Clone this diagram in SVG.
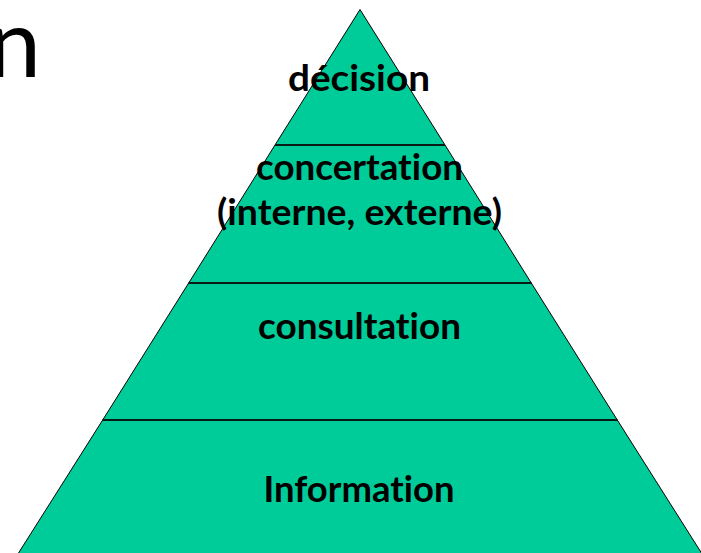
<svg xmlns="http://www.w3.org/2000/svg" width="701" height="553" viewBox="0 0 701 553">
<style>
.tier{fill:#00CC99;stroke:#000;stroke-width:1;stroke-linejoin:miter}
.div{stroke:#0a1a14;stroke-width:2}
.lbl{font-family:Lato,"Open Sans","Liberation Sans",sans-serif;font-weight:bold;font-size:36px;fill:#000;text-anchor:middle;font-variant-ligatures:none}
.title{font-family:Lato,"Open Sans","Liberation Sans",sans-serif;font-size:95px;fill:#000}
</style>
<rect width="701" height="553" fill="#fff"/>
<text class="title" x="-12" y="77">n</text>
<g id="tier-information">
<polygon class="tier" points="102.7,420 617.3,420 705.9,560 14.1,560"/>
<text class="lbl" x="359" y="502" textLength="191" lengthAdjust="spacingAndGlyphs">Information</text>
</g>
<g id="tier-consultation">
<polygon class="tier" points="188.7,283 531.3,283 617.3,420 102.7,420"/>
<text class="lbl" x="359.5" y="339" textLength="203" lengthAdjust="spacingAndGlyphs">consultation</text>
</g>
<g id="tier-concertation">
<polygon class="tier" points="275,145 445,145 531.3,283 188.7,283"/>
<text class="lbl" x="359.5" y="180" textLength="207" lengthAdjust="spacingAndGlyphs">concertation</text>
<text class="lbl" x="359.5" y="225" textLength="285" lengthAdjust="spacingAndGlyphs">(interne, externe)</text>
</g>
<g id="tier-decision">
<polygon class="tier" points="360,9.5 445,145 275,145"/>
<text class="lbl" x="359" y="91" textLength="142" lengthAdjust="spacingAndGlyphs">décision</text>
</g>
<g id="connectors">
<line class="div" x1="275" y1="145" x2="445" y2="145"/>
<line class="div" x1="188.7" y1="283" x2="531.3" y2="283"/>
<line class="div" x1="102.7" y1="420" x2="617.3" y2="420"/>
</g>
</svg>
